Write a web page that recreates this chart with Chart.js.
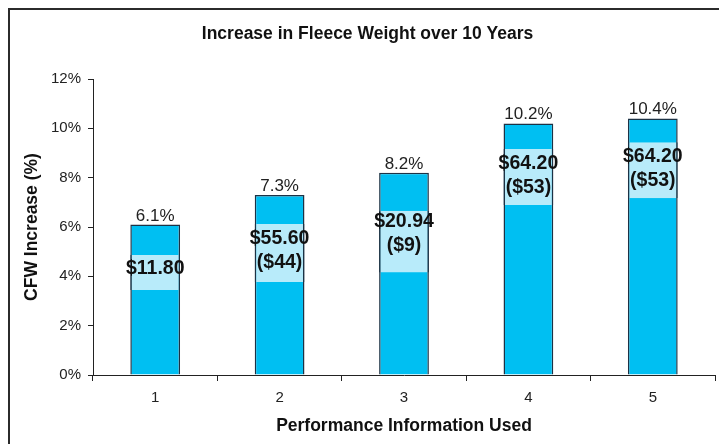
<!DOCTYPE html>
<html>
<head>
<meta charset="utf-8">
<script src="https://cdn.jsdelivr.net/npm/chart.js@4/dist/chart.umd.min.js"></script>
<style>
  html, body { margin: 0; padding: 0; background: #ffffff; }
  #wrap { width: 719px; height: 444px; }
</style>
</head>
<body>
<div id="wrap"><canvas id="c" width="719" height="444"></canvas></div>
<script>
// ---- data ----
const categories = ['1', '2', '3', '4', '5'];
const cfwIncrease = [6.1, 7.3, 8.2, 10.2, 10.4];            // bar heights (%)
const pctLabels = ['6.1%', '7.3%', '8.2%', '10.2%', '10.4%'];
const valueLines = [['$11.80'], ['$55.60', '($44)'], ['$20.94', '($9)'], ['$64.20', '($53)'], ['$64.20', '($53)']];
const boxLow = [3.45, 3.77, 4.16, 6.89, 7.17];               // light band bottom (%)
const boxHigh = [4.86, 6.12, 6.66, 9.16, 9.44];              // light band top (%)
const textCenter = [4.31, 5.03, 5.73, 8.09, 8.38];           // value text centre (%)
const yTicksMax = 12;
const yStep = 2;
const chartTitle = 'Increase in Fleece Weight over 10 Years';
const yTitle = 'CFW Increase (%)';
const xTitle = 'Performance Information Used';

const FONT = '"Liberation Sans", Arial, Helvetica, sans-serif';
const BAR_FILL = '#00bff2';
const BAR_EDGE = '#1c3245';
const BAND_FILL = '#b8ebfa';

const framePlugin = {
  id: 'frame',
  beforeDraw(chart) {
    const ctx = chart.ctx;
    ctx.save();
    ctx.strokeStyle = '#2b2b2b';
    ctx.lineWidth = 2;
    ctx.beginPath();
    ctx.moveTo(9, chart.height);
    ctx.lineTo(9, 9);
    ctx.lineTo(chart.width, 9);
    ctx.stroke();
    // title
    ctx.fillStyle = '#111';
    ctx.font = 'bold 17.5px ' + FONT;
    ctx.textAlign = 'center';
    ctx.textBaseline = 'middle';
    ctx.fillText(chartTitle, 367.5, 34);
    ctx.restore();
  }
};

const labelPlugin = {
  id: 'barLabels',
  afterDatasetsDraw(chart) {
    const ctx = chart.ctx;
    const meta = chart.getDatasetMeta(1);
    const y = chart.scales.y;
    ctx.save();
    ctx.textAlign = 'center';
    meta.data.forEach((bar, i) => {
      // percentage above bar
      ctx.fillStyle = '#222';
      ctx.font = '17px ' + FONT;
      ctx.textBaseline = 'alphabetic';
      ctx.fillText(pctLabels[i], bar.x, bar.y - 4);
      // value text in the band
      const lines = valueLines[i];
      const lh = 24;
      const cy = y.getPixelForValue(textCenter[i]);
      ctx.fillStyle = '#111';
      ctx.font = 'bold 19.5px ' + FONT;
      ctx.textBaseline = 'middle';
      lines.forEach((t, k) => {
        const ly = cy + (k - (lines.length - 1) / 2) * lh;
        ctx.fillText(t, bar.x, ly);
      });
    });
    ctx.restore();
  }
};

new Chart(document.getElementById('c'), {
  type: 'bar',
  data: {
    labels: categories,
    datasets: [
      {
        label: 'band',
        data: boxLow.map((lo, i) => [lo, boxHigh[i]]),
        backgroundColor: BAND_FILL,
        borderColor: BAR_EDGE,
        borderWidth: { left: 1.5, right: 1.5, top: 0, bottom: 0 },
        borderSkipped: false,
        grouped: false,
        categoryPercentage: 1,
        barPercentage: 0.4,
        order: 1
      },
      {
        label: 'CFW Increase',
        data: cfwIncrease,
        backgroundColor: BAR_FILL,
        borderColor: BAR_EDGE,
        borderWidth: 1.5,
        grouped: false,
        categoryPercentage: 1,
        barPercentage: 0.4,
        order: 2
      }
    ]
  },
  options: {
    responsive: false,
    animation: false,
    devicePixelRatio: 1,
    layout: { padding: { top: 79, right: 4, bottom: 0, left: 0 } },
    plugins: {
      legend: { display: false },
      tooltip: { enabled: false },
      title: { display: false }
    },
    scales: {
      x: {
        offset: true,
        grid: { offset: true, drawOnChartArea: false, drawTicks: true, tickLength: 6, color: '#222', lineWidth: 1 },
        border: { display: true, color: '#222', width: 1 },
        ticks: { color: '#222', font: { family: FONT, size: 15 }, padding: 8, maxRotation: 0 },
        title: { display: true, text: xTitle, color: '#111', font: { family: FONT, size: 17.5, weight: 'bold' }, padding: { top: 0, bottom: 7.5 } },
        afterFit(s) { s.height = 69; }
      },
      y: {
        min: 0,
        max: yTicksMax,
        grid: { drawOnChartArea: false, drawTicks: true, tickLength: 5, color: '#222', lineWidth: 1 },
        border: { display: true, color: '#222', width: 1 },
        ticks: { stepSize: yStep, color: '#222', font: { family: FONT, size: 15 }, padding: 7, callback: v => v + '%' },
        title: { display: true, text: yTitle, color: '#111', font: { family: FONT, size: 17.5, weight: 'bold' }, padding: { top: 22, bottom: 0 } },
        afterFit(s) { s.width = 93; }
      }
    }
  },
  plugins: [framePlugin, labelPlugin]
});
</script>
</body>
</html>
